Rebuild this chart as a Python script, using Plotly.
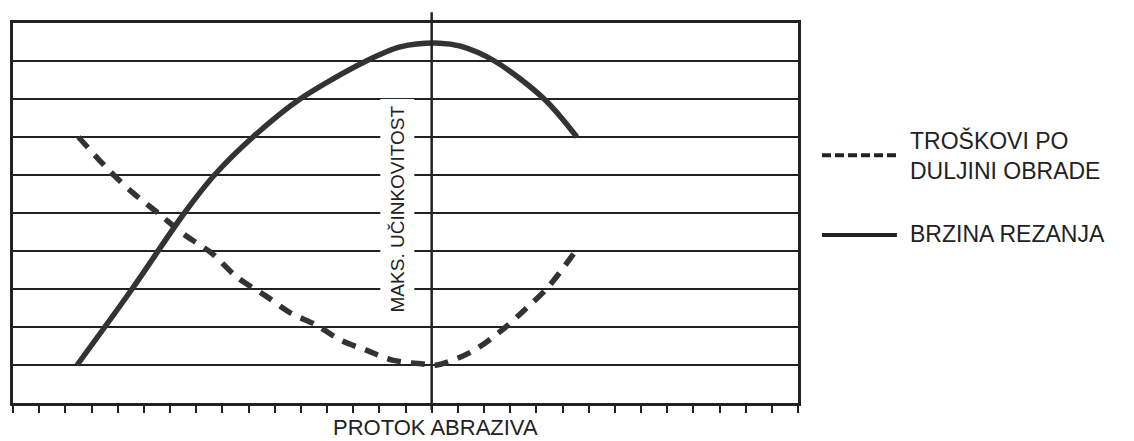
import plotly.graph_objects as go

# --- data ---
x_speed = [2.45, 4.55, 6.55, 7.7, 9.17, 10.97, 13.5, 14.8, 16.3, 17.1, 18.4, 20.3, 21.55]
y_speed = [1.0, 3.0, 5.0, 6.0, 7.0, 8.0, 9.0, 9.37, 9.47, 9.39, 9.0, 8.0, 7.0]

x_cost = [2.5, 3.7, 4.55, 5.54, 6.57, 7.6, 8.56, 9.7, 10.6, 11.6, 12.5, 13.5, 14.5, 15.6, 16.2,
          17.5, 18.6, 19.55, 20.45, 21.5]
y_cost = [7.0, 6.1, 5.55, 5.0, 4.42, 3.94, 3.31, 2.8, 2.37, 2.05, 1.66, 1.39, 1.13, 1.03, 1.0,
          1.34, 1.87, 2.45, 3.05, 4.0]

x_opt = 16
x_label = "PROTOK ABRAZIVA"
opt_label = "MAKS. UČINKOVITOST"
name_cost = "TROŠKOVI PO<br>DULJINI OBRADE"
name_speed = "BRZINA REZANJA"

INK = "#222222"
FONT = "Liberation Sans, Arial, sans-serif"

fig = go.Figure()
fig.add_trace(go.Scatter(x=x_cost, y=y_cost, mode="lines", name=name_cost,
                         line=dict(color="#333333", width=5.5, dash="14px,10px", shape="spline", smoothing=0.9),
                         showlegend=False))
fig.add_trace(go.Scatter(x=x_speed, y=y_speed, mode="lines", name=name_speed,
                         line=dict(color="#333333", width=5.5, shape="spline", smoothing=0.9),
                         showlegend=False))

# optimum vertical line
fig.add_shape(type="line", xref="x", yref="paper", x0=x_opt, x1=x_opt, y0=-0.018, y1=1.028,
              line=dict(color=INK, width=2.5), layer="above")

fig.add_annotation(x=14.7, y=5.11, xref="x", yref="y", text=opt_label, textangle=-90,
                   showarrow=False, font=dict(family=FONT, size=19, color=INK),
                   bgcolor="white", borderpad=6)

fig.add_annotation(x=0.5376, y=-0.0657, xref="paper", yref="paper", text=x_label,
                   showarrow=False, font=dict(family=FONT, size=22, color=INK),
                   xanchor="center", yanchor="middle")

# legend (manual)
fig.add_shape(type="line", xref="paper", yref="paper", x0=1.0306, x1=1.126, y0=0.652, y1=0.652,
              line=dict(color=INK, width=4, dash="9px,4px"))
fig.add_shape(type="line", xref="paper", yref="paper", x0=1.0306, x1=1.126, y0=0.4418, y1=0.4418,
              line=dict(color=INK, width=4))
fig.add_annotation(x=1.1401, y=0.651, xref="paper", yref="paper", text=name_cost,
                   showarrow=False, align="left", xanchor="left", yanchor="middle",
                   font=dict(family=FONT, size=23, color=INK))
fig.add_annotation(x=1.1401, y=0.446, xref="paper", yref="paper", text=name_speed,
                   showarrow=False, align="left", xanchor="left", yanchor="middle",
                   font=dict(family=FONT, size=23, color=INK))

fig.update_layout(
    width=1126, height=433,
    margin=dict(l=5, r=336, t=15, b=38),
    plot_bgcolor="white", paper_bgcolor="white",
    showlegend=False,
    xaxis=dict(range=[0, 30], showgrid=False, zeroline=False, showline=True, mirror=True,
               linewidth=3, linecolor=INK, ticks="outside", tickmode="linear", tick0=0, dtick=1,
               ticklen=7, tickwidth=2, tickcolor=INK, showticklabels=False, fixedrange=True),
    yaxis=dict(range=[0, 10], showgrid=True, gridcolor=INK, gridwidth=2, zeroline=False,
               showline=True, mirror=True, linewidth=3, linecolor=INK, ticks="",
               tickmode="linear", tick0=0, dtick=1, showticklabels=False, fixedrange=True),
)

fig.write_html("out.html")
